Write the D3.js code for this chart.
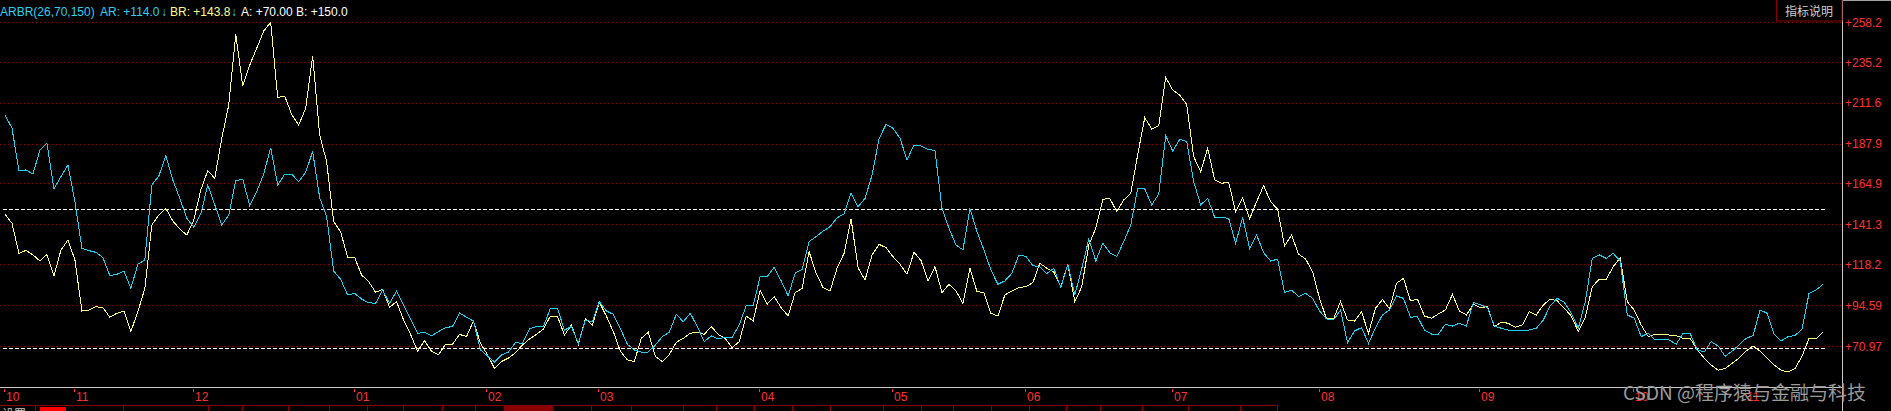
<!DOCTYPE html>
<html><head><meta charset="utf-8">
<script src="https://cdn.jsdelivr.net/npm/d3@7"></script>
<style>
html,body{margin:0;padding:0;background:#000;overflow:hidden;}
svg{display:block;}
</style></head>
<body>
<svg id="chart" width="1891" height="411"></svg>
<script>
// ---- data ----
const AR = [204.5,196.8,172.3,172.7,170.4,184.2,188.1,161.7,168.8,175.6,154.4,127.4,126.1,125.1,122.0,111.6,112.4,114.3,104.3,118.2,
120.7,164.0,169.2,181.0,166.9,156.3,144.8,139.6,147.3,164.0,152.5,140.9,146.7,166.5,167.3,152.1,160.2,170.4,185.6,164.0,
170.2,170.2,166.0,171.3,183.3,156.7,145.7,114.3,109.5,100.5,101.4,98.1,96.0,95.6,103.3,95.6,102.8,94.7,86.6,78.3,
78.9,76.8,79.3,81.6,82.2,90.0,87.6,85.4,68.7,65.2,61.8,65.8,67.5,72.9,72.5,80.8,82.2,82.2,92.8,92.8,
80.2,82.2,72.5,86.0,85.0,96.6,91.2,89.3,81.2,72.0,68.7,67.5,67.5,71.5,76.4,78.9,89.3,85.0,89.9,82.2,
73.5,76.8,75.0,76.0,76.0,83.1,94.3,94.3,111.1,111.1,116.4,108.6,99.9,113.0,115.3,131.3,134.2,137.4,139.9,145.1,
147.3,159.2,151.5,156.3,169.8,190.6,199.1,196.8,191.0,178.5,187.1,186.6,184.6,183.9,150.5,139.0,129.4,126.5,150.5,137.1,
126.5,114.9,106.6,108.6,113.0,123.6,122.8,117.4,116.8,112.8,115.9,104.7,118.2,100.5,115.9,132.8,120.1,130.3,124.9,122.6,
131.3,140.9,162.1,161.7,152.5,158.8,192.5,183.7,190.4,189.1,165.9,152.5,156.3,145.3,145.1,144.8,130.3,145.3,127.4,135.1,
124.9,120.1,121.1,101.8,103.3,99.5,101.4,98.5,91.2,86.6,86.0,91.8,72.9,79.7,81.6,72.5,81.6,88.9,91.8,99.9,
98.5,87.6,87.9,80.2,77.9,77.9,83.5,82.5,84.1,82.5,96.2,94.7,93.3,82.5,81.2,80.2,80.2,79.7,80.2,81.2,
86.0,94.3,98.5,96.2,89.9,81.2,96.6,121.6,123.6,121.6,124.5,120.1,88.9,87.0,76.4,78.3,74.5,74.5,74.5,72.0,
78.3,78.3,68.7,67.5,73.5,71.0,65.0,68.0,71.6,75.4,77.0,91.8,89.9,77.7,73.9,76.4,77.0,80.8,101.4,103.3,106.6];

const BR = [147.1,141.9,124.5,126.2,123.6,120.1,123.9,111.4,126.4,132.2,120.7,91.2,91.8,93.7,93.1,87.6,89.9,91.2,79.3,90.8,
104.3,140.9,146.7,150.5,143.2,138.6,135.1,143.8,161.1,172.3,167.9,191.0,210.2,251.1,221.2,233.3,243.0,253.0,258.0,214.5,
215.4,204.8,198.7,208.3,238.7,192.9,177.5,142.8,137.0,122.2,122.2,112.0,108.2,102.0,103.7,93.3,96.6,86.0,77.7,68.0,
74.0,68.0,66.0,72.0,72.0,77.7,76.4,85.4,72.5,66.0,58.0,62.0,64.0,67.0,71.6,75.0,77.7,80.8,88.3,88.3,
77.3,83.1,72.0,86.6,83.1,96.2,88.3,79.3,68.0,63.0,62.0,75.4,78.9,65.0,62.0,66.0,73.1,75.4,78.3,78.9,
77.7,82.2,77.7,75.4,70.0,73.5,88.3,85.4,103.3,95.1,99.5,93.1,88.3,101.8,104.3,125.5,113.0,104.7,102.8,116.0,
124.5,144.4,116.2,109.1,123.6,129.7,127.8,122.6,118.2,112.4,125.1,120.4,108.6,116.8,101.8,106.6,102.8,95.6,115.9,102.4,
101.8,89.9,88.3,100.5,102.8,104.7,105.3,107.6,118.8,115.9,113.6,105.3,118.2,96.6,105.3,129.4,139.0,155.7,156.3,148.6,
155.4,159.2,181.7,202.9,196.4,198.3,226.2,218.9,216.0,210.6,180.4,171.7,185.2,166.9,165.0,165.6,148.6,156.7,144.4,154.4,
163.6,154.4,150.0,128.8,135.1,124.0,121.3,113.9,98.5,86.6,86.6,96.6,86.0,85.4,90.8,78.3,92.8,97.8,92.4,107.2,
110.1,97.0,98.0,88.3,87.0,89.5,91.8,100.8,91.2,88.9,95.1,93.1,93.7,82.2,84.7,84.1,81.8,83.1,90.8,88.9,
94.7,98.1,97.0,92.8,88.3,79.3,87.4,105.3,109.5,109.5,116.8,122.0,96.6,91.8,83.1,76.4,77.7,77.7,77.3,77.0,
75.4,75.4,69.0,64.0,60.0,57.0,58.0,61.0,64.0,68.0,71.0,68.0,64.0,60.0,57.0,56.0,58.0,65.0,75.4,75.0,78.9];

const yTicks = [258.2, 235.2, 211.6, 187.9, 164.9, 141.3, 118.2, 94.59, 70.97];
const yTickLabels = ["+258.2","+235.2","+211.6","+187.9","+164.9","+141.3","+118.2","+94.59","+70.97"];
const monthLabels = ["10","11","12","01","02","03","04","05","06","07","08","09","10","11"];
const monthIndex  = [0,10,27,50,69,85,108,127,146,167,188,211,233,249];
const levelA = 70, levelB = 150;

// ---- chart ----
const W = 1891, H = 411;
const axisX = 1842, bottomY = 387;
const svg = d3.select("#chart");
svg.append("rect").attr("width", W).attr("height", H).attr("fill", "#000");

const x = d3.scaleLinear().domain([0, AR.length - 1]).range([5, 1823]);
const y = d3.scaleLinear().domain([70.97, 258.2]).range([346, 22]);

// grid
svg.append("g").selectAll("line").data(yTicks).join("line")
  .attr("x1", 0).attr("x2", axisX)
  .attr("y1", d => Math.round(y(d)) + 0.5).attr("y2", d => Math.round(y(d)) + 0.5)
  .attr("stroke", "#900000").attr("stroke-dasharray", "1,3");

// y axis labels
const yAxis = d3.axisRight(y).tickValues(yTicks).tickSize(0).tickPadding(3)
  .tickFormat((d, i) => yTickLabels[i]);
const ga = svg.append("g").attr("transform", `translate(${axisX},0)`).call(yAxis);
ga.select(".domain").remove();
ga.selectAll("text").attr("fill", "#ff3030").attr("font-family", "Liberation Sans, Arial, sans-serif")
  .attr("font-size", 12).attr("dy", "0.35em");

// A / B levels
svg.append("g").selectAll("line").data([levelB, levelA]).join("line")
  .attr("x1", 3).attr("x2", 1826)
  .attr("y1", d => Math.round(y(d)) + 0.5).attr("y2", d => Math.round(y(d)) + 0.5)
  .attr("stroke", "#ffffff").attr("stroke-dasharray", "4,2");

// lines
const line = d3.line().x((d, i) => x(i)).y(d => y(d));
svg.append("path").datum(BR).attr("d", line).attr("fill", "none")
  .attr("stroke", "#ffff80").attr("stroke-width", 1).attr("shape-rendering", "crispEdges");
svg.append("path").datum(AR).attr("d", line).attr("fill", "none")
  .attr("stroke", "#20d0f0").attr("stroke-width", 1).attr("shape-rendering", "crispEdges");

// frame lines
svg.append("line").attr("x1", axisX + 0.5).attr("x2", axisX + 0.5).attr("y1", 0).attr("y2", 411)
  .attr("stroke", "#c8c8c8");
svg.append("line").attr("x1", 0).attr("x2", axisX).attr("y1", bottomY + 0.5).attr("y2", bottomY + 0.5)
  .attr("stroke", "#c8c8c8");
svg.append("line").attr("x1", 1776).attr("x2", W).attr("y1", 0.5).attr("y2", 0.5).attr("stroke", "#a0a0a0");

// x axis month labels
const gx = svg.append("g");
monthIndex.forEach((mi, k) => {
  const tx = Math.max(1, Math.round(x(mi)) - 1);
  gx.append("line").attr("x1", tx + 0.5).attr("x2", tx + 0.5).attr("y1", 389).attr("y2", 392).attr("stroke", "#ff3030");
  gx.append("text").attr("x", tx + 2).attr("y", 401).text(monthLabels[k])
    .attr("fill", "#ff3030").attr("font-family", "Liberation Sans, Arial, sans-serif").attr("font-size", 12);
});

// button
svg.append("rect").attr("x", 1776.5).attr("y", -1).attr("width", 65.5).attr("height", 22)
  .attr("fill", "#000").attr("stroke", "#8a0000");
svg.append("text").attr("x", 1809).attr("y", 16).attr("text-anchor", "middle").text("指标说明")
  .attr("fill", "#cfcfcf").attr("font-family", "Noto Sans CJK SC, sans-serif").attr("font-size", 12);

// legend
const lg = svg.append("g").attr("font-family", "Liberation Sans, Arial, sans-serif").attr("font-size", 12);
const legendItems = [
  {t: "ARBR(26,70,150)", x: 0, c: "#2fd0f0"},
  {t: "AR: +114.0", x: 100, c: "#2fd0f0"},
  {t: "↓", x: 161, c: "#2fd0f0"},
  {t: "BR: +143.8", x: 170, c: "#ffff8a"},
  {t: "↓", x: 231, c: "#2fd0f0"},
  {t: "A: +70.00", x: 241, c: "#ffffff"},
  {t: "B: +150.0", x: 296, c: "#ffffff"}
];
legendItems.forEach(d => lg.append("text").attr("x", d.x).attr("y", 16).attr("fill", d.c).text(d.t));

// bottom tab strip
const tabsX = [0,35,123,208,242,288,329,367,403,442,475,504,552,591,631,683,716,754,792,830,883,921,953,991,1029,1066,1100,1142,1188,1240,1277];
svg.append("rect").attr("x", 504).attr("y", 406).attr("width", 48).attr("height", 6).attr("fill", "#8a0000");
svg.append("line").attr("x1", 0).attr("x2", 1277).attr("y1", 405.5).attr("y2", 405.5).attr("stroke", "#8a0000");
svg.append("g").selectAll("line").data(tabsX.slice(1)).join("line")
  .attr("x1", d => d + 0.5).attr("x2", d => d + 0.5).attr("y1", 405).attr("y2", 411).attr("stroke", "#8a0000");
svg.append("rect").attr("x", 40).attr("y", 407).attr("width", 26).attr("height", 5).attr("fill", "#ff0000");
svg.append("text").attr("x", 2).attr("y", 419).text("设置")
  .attr("fill", "#c8c8c8").attr("font-family", "Noto Sans CJK SC, sans-serif").attr("font-size", 12);

// watermark
svg.append("text").attr("x", 1623).attr("y", 400).text("CSDN @程序猿与金融与科技")
  .attr("fill", "#9a9a9a").attr("font-family", "Noto Sans CJK SC, sans-serif").attr("font-size", 19);
</script>
</body></html>
